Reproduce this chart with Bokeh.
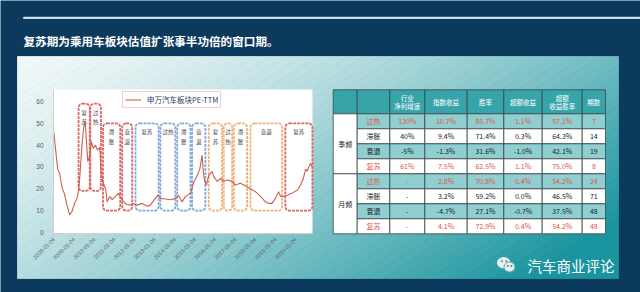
import math
import pandas as pd
from bokeh.plotting import figure
from bokeh.models import (Range1d, FixedTicker, DatetimeTickFormatter, LinearAxis, DatetimeAxis,
                          ColumnDataSource)
from bokeh.core.properties import value
from bokeh.embed import file_html
from bokeh.resources import INLINE

# ---------------- data ----------------
title_text = "复苏期为乘用车板块估值扩张事半功倍的窗口期。"
series_name = "申万汽车板块PE-TTM"
watermark_text = "汽车商业评论"

pe_dates = [
    "2008-01-04", "2008-02-01", "2008-03-14", "2008-04-18", "2008-06-06", "2008-07-11", "2008-08-29",
    "2008-10-17", "2008-11-28", "2009-01-09", "2009-02-27", "2009-03-27", "2009-04-17", "2009-05-29",
    "2009-06-26", "2009-07-24", "2009-08-14", "2009-09-11", "2009-10-16", "2009-11-13", "2009-12-18",
    "2010-01-29", "2010-03-05", "2010-04-16", "2010-05-07", "2010-06-11", "2010-07-30", "2010-08-27",
    "2010-10-15", "2010-11-26", "2011-01-21", "2011-03-25", "2011-05-06", "2011-06-24", "2011-08-19",
    "2011-10-21", "2011-12-16", "2012-02-17", "2012-05-25", "2012-08-24", "2012-10-19", "2013-01-18",
    "2013-03-01", "2013-04-19", "2013-07-19", "2013-10-18", "2014-01-17", "2014-03-14", "2014-05-16",
    "2014-07-18", "2014-10-17", "2014-12-12", "2015-02-13", "2015-04-03", "2015-05-15", "2015-06-05",
    "2015-06-26", "2015-07-31", "2015-09-11", "2015-11-13", "2015-12-11", "2016-02-12", "2016-04-15",
    "2016-06-10", "2016-08-12", "2016-11-11", "2017-01-06", "2017-04-07", "2017-07-07", "2017-10-06",
    "2018-01-05", "2018-04-06", "2018-07-06", "2018-09-07", "2018-11-02", "2019-01-04", "2019-03-01",
    "2019-04-05", "2019-06-07", "2019-08-02", "2019-11-01", "2020-02-07", "2020-04-03", "2020-05-22",
    "2020-07-03", "2020-08-01", "2020-08-28", "2020-10-02", "2020-10-30"]
pe_values = [
    46, 39, 29, 27, 20, 18, 12.5, 8, 9.6, 13, 15.6, 19, 25, 40, 47.6, 51, 43, 32.5, 35, 41.7, 38.5,
    40, 37.7, 39, 29, 23, 20, 14, 16.5, 15, 16.5, 18, 15.6, 14, 12.8, 12.5, 13.3, 12.5, 13.3, 12, 12.5, 15.6,
    17, 15.6, 15.3, 15, 15.6, 17, 14, 16.5, 18, 23, 26, 29, 35.4, 28, 24, 21.7, 26, 28, 25.6, 23.4, 24.7, 23.4, 24,
    23.4, 21.7, 22.5, 21.4, 20, 18.7, 16.5, 14, 13.3, 13.3, 15.6, 18.7, 16.5, 16.5, 17, 18, 19.4, 21.7, 24.7, 29, 28,
    30, 31.6, 30]

phase_names = ["复苏", "过热", "滞胀", "衰退", "复苏", "过热", "滞胀", "衰退",
               "复苏", "过热", "滞胀", "衰退", "复苏"]
phase_start = ["2009-03-27", "2009-10-27", "2010-06-13", "2011-05-27", "2012-01-23", "2013-04-19",
               "2014-02-18", "2014-11-14", "2015-09-12", "2016-06-10", "2016-12-10", "2017-10-08",
               "2019-07-01"]
phase_end = ["2009-10-16", "2010-05-07", "2011-04-22", "2011-11-25", "2013-03-18", "2014-01-15",
             "2014-10-16", "2015-07-13", "2016-05-11", "2016-11-10", "2017-08-07", "2019-05-05",
             "2020-11-03"]
phase_low = [19, 19, 10, 10, 10, 10, 10, 10, 10, 10, 10, 10, 10]
phase_high = [59, 59, 50, 50, 50, 50, 50, 50, 50, 50, 50, 50, 50]
phase_cycle = [0, 0, 0, 0, 1, 1, 1, 1, 2, 2, 2, 2, 3]
phase_vertical = [True, True, True, True, False, False, True, True, True, True, True, False, False]

x_tick_dates = ["2008-01-04", "2009-01-04", "2010-01-04", "2011-01-04", "2012-01-04", "2013-01-04",
                "2014-01-04", "2015-01-04", "2016-01-04", "2017-01-04", "2018-01-04", "2019-01-04",
                "2020-01-04"]
y_ticks = [0, 10, 20, 30, 40, 50, 60]
x_bounds = ["2007-12-29", "2020-11-05"]
y_bounds = [-0.5, 65.5]

table_header = ["", "", "行业\n净利增速", "指数收益", "胜率", "超额收益", "超额\n收益胜率", "期数"]
table_groups = ["季频", "月频"]
table_phases = ["过热", "滞胀", "衰退", "复苏", "过热", "滞胀", "衰退", "复苏"]
col_industry_profit = ["130%", "40%", "-5%", "61%", "-", "-", "-", "-"]
col_index_return = ["10.7%", "9.4%", "-1.3%", "7.5%", "2.8%", "3.2%", "-4.7%", "4.1%"]
col_win_rate = ["85.7%", "71.4%", "31.6%", "62.5%", "70.8%", "59.2%", "27.1%", "72.9%"]
col_excess_return = ["1.1%", "0.3%", "-1.0%", "1.1%", "0.4%", "0.0%", "-0.7%", "0.4%"]
col_excess_win = ["57.1%", "64.3%", "42.1%", "75.0%", "54.2%", "46.5%", "37.5%", "54.2%"]
col_periods = ["7", "14", "19", "8", "24", "71", "48", "48"]

# ---------------- styling / layout ----------------
W, H = 640, 292
FL, FR, FT, FB = 53, 312, 89, 233          # chart area in page pixels
NAVY = "#0c3a5d"
CJK = "Noto Sans CJK SC"
CYCLE_COLORS = ["#dc6767", "#85aadb", "#f0b27c", "#dc6767"]
LINE_COLOR = "#c8614d"


def to_ms(dates):
    return [float(pd.Timestamp(d).value // 10**6) for d in dates]


# whole page = plot frame, default ranges are page pixels (y downwards)
p = figure(width=W, height=H, x_axis_type=None, y_axis_type=None,
           x_range=Range1d(0, W), y_range=Range1d(H, 0),
           min_border_left=0, min_border_right=0, min_border_top=0, min_border_bottom=0,
           toolbar_location=None, output_backend="svg", title=None,
           background_fill_color=NAVY, border_fill_color=NAVY, outline_line_color=None)

# chart ranges, extended so that the data window lands on the chart area
d0, d1 = to_ms(x_bounds)
kx = (d1 - d0) / (FR - FL)
ky = (y_bounds[1] - y_bounds[0]) / (FB - FT)
p.extra_x_ranges = {"date": Range1d(d0 - FL * kx, d0 + (W - FL) * kx)}
p.extra_y_ranges = {"pe": Range1d(y_bounds[0] - (H - FB) * ky, y_bounds[0] + FB * ky)}

# ---------------- gradient panel ----------------
X0, X1, Y0, Y1 = 17, 618, 56, 278
C0 = (241, 248, 248)
C1 = (26, 148, 158)


def tval(x, y):
    return 0.7 * (x - X0) / (X1 - X0) + 0.4 * (y - Y0) / (Y1 - Y0)


def grad_color(t):
    t = max(0.0, min(1.0, t)) ** 1.4
    return "#%02x%02x%02x" % tuple(int(round(a + (b - a) * t)) for a, b in zip(C0, C1))


def clip(poly, f):
    out = []
    n = len(poly)
    for i in range(n):
        P, Q = poly[i], poly[(i + 1) % n]
        fp, fq = f(P), f(Q)
        if fp >= 0:
            out.append(P)
        if (fp >= 0) != (fq >= 0):
            s = fp / (fp - fq)
            out.append((P[0] + s * (Q[0] - P[0]), P[1] + s * (Q[1] - P[1])))
    return out


gxs, gys, gcs = [], [], []
NB, TMAX = 60, 1.1
for k in range(NB):
    t0, t1 = TMAX * k / NB, TMAX * (k + 1) / NB
    poly = [(X0, Y0), (X1, Y0), (X1, Y1), (X0, Y1)]
    poly = clip(poly, lambda P: tval(*P) - t0)
    if len(poly) >= 3:
        poly = clip(poly, lambda P: t1 - tval(*P))
    if len(poly) >= 3:
        gxs.append([q[0] for q in poly])
        gys.append([q[1] for q in poly])
        gcs.append(grad_color((t0 + t1) / 2))
p.patches(xs="xs", ys="ys", source=ColumnDataSource(dict(xs=gxs, ys=gys, c=gcs)),
          fill_color="c", line_color="c", line_width=0.8)

# title + separator
p.quad(left=[22.7], right=[W], top=[16.2], bottom=[18.6], fill_color="#c9dcec", line_color=None)
p.text(x=[23], y=[40.7], text=[title_text], text_color="white", text_font=value(CJK),
       text_font_size="11.6px", text_font_style="bold", text_baseline="middle", text_align="left")

# chart area background
p.quad(left=[FL], right=[FR], top=[FT], bottom=[FB], fill_color="white", line_color=None)

# ---------------- chart ----------------
ps = to_ms(phase_start)
pe_ = to_ms(phase_end)
phase_src = ColumnDataSource(dict(
    left=ps, right=pe_, bottom=phase_low, top=phase_high,
    mid=[(a + b) / 2 for a, b in zip(ps, pe_)],
    color=[CYCLE_COLORS[c] for c in phase_cycle],
    label=["\n".join(n) if v else n for n, v in zip(phase_names, phase_vertical)],
))
p.quad(left="left", right="right", bottom="bottom", top="top", source=phase_src,
       x_range_name="date", y_range_name="pe",
       fill_color=None, line_color="color", line_width=1.8, line_dash="3 1", border_radius=4)
p.text(x="mid", y="top", text="label", source=phase_src, x_range_name="date", y_range_name="pe",
       text_align="center", text_baseline="top",
       y_offset=5, text_font_size="5.5px", text_color="#3c3c3c", text_font=value(CJK),
       text_line_height=1.15)

line_src = ColumnDataSource(dict(x=to_ms(pe_dates), y=pe_values))
p.line(x="x", y="y", source=line_src, x_range_name="date", y_range_name="pe",
       line_color=LINE_COLOR, line_width=1.1, legend_label=series_name)

fmt = "%Y-%m-%d"
xaxis = DatetimeAxis(x_range_name="date", fixed_location=FB, bounds=(d0, d1),
                     ticker=FixedTicker(ticks=to_ms(x_tick_dates)),
                     formatter=DatetimeTickFormatter(microseconds=fmt, milliseconds=fmt, seconds=fmt,
                                                     minsec=fmt, minutes=fmt, hourmin=fmt, hours=fmt,
                                                     days=fmt, months=fmt, years=fmt))
yaxis = LinearAxis(y_range_name="pe", fixed_location=FL, bounds=tuple(y_bounds),
                   ticker=FixedTicker(ticks=y_ticks))
for ax in (xaxis, yaxis):
    ax.major_label_text_color = "#595959"
    ax.major_label_text_font = "Liberation Sans"
    ax.axis_line_color = "#d0d0d0"
    ax.minor_tick_line_color = None
xaxis.major_label_orientation = math.pi / 4
xaxis.major_label_text_font_size = "5.5px"
xaxis.major_tick_line_color = "#c0c0c0"
xaxis.major_tick_out = 2
xaxis.major_tick_in = 0
xaxis.major_label_standoff = 3
yaxis.major_label_text_font_size = "6.5px"
yaxis.major_tick_line_color = None
yaxis.major_label_standoff = 4
p.add_layout(xaxis, "below")
p.add_layout(yaxis, "left")

lg = p.legend[0]
lg.location = (122, H - 108)
lg.label_text_font_size = "7.5px"
lg.label_text_font = CJK
lg.label_text_color = "#1f3864"
lg.border_line_color = "#e3a0a0"
lg.border_line_width = 1
lg.background_fill_color = "white"
lg.background_fill_alpha = 1
lg.padding = 2
lg.spacing = 0
lg.margin = 0
lg.label_height = 9
lg.glyph_height = 9
lg.glyph_width = 16
lg.label_standoff = 6

# ---------------- table ----------------
HEADER_FILL = "#37a4aa"
SHADE_FILL = "#90cfd1"
BORDER = "#3a4548"
RED_TXT = "#e0533f"
BLK_TXT = "#1a1a1a"
cols = [332.7, 356.7, 389.3, 424.3, 466.7, 503.3, 541.7, 581.7, 605]
HT, HB, RH = 89.3, 113.3, 15.0

cl, cr, ct, cb, cf = [], [], [], [], []


def cell(l, r, t, b, fill):
    cl.append(l); cr.append(r); ct.append(t); cb.append(b); cf.append(fill)


for j in range(8):
    cell(cols[j], cols[j + 1], HT, HB, HEADER_FILL)
for g in range(2):
    cell(cols[0], cols[1], HB + 4 * RH * g, HB + 4 * RH * (g + 1), "white")
for i in range(8):
    fill = SHADE_FILL if table_phases[i] in ("过热", "衰退") else "white"
    for j in range(1, 8):
        cell(cols[j], cols[j + 1], HB + RH * i, HB + RH * (i + 1), fill)
p.quad(left="l", right="r", top="t", bottom="b", source=ColumnDataSource(dict(l=cl, r=cr, t=ct, b=cb, f=cf)),
       fill_color="f", line_color=BORDER, line_width=0.8)

hx, hy, ht = [], [], []
for j, h in enumerate(table_header):
    if not h:
        continue
    parts = h.split("\n")
    cx = (cols[j] + cols[j + 1]) / 2
    cy = (HT + HB) / 2
    for k, part in enumerate(parts):
        hx.append(cx)
        hy.append(cy + (k - (len(parts) - 1) / 2) * 8.0)
        ht.append(part)
p.text(x="x", y="y", text="text", source=ColumnDataSource(dict(x=hx, y=hy, text=ht)),
       text_align="center", text_baseline="middle",
       text_font=value(CJK), text_font_size="6.5px", text_color="white")

bx, by, bt, bc = [], [], [], []
for g in range(2):
    bx.append((cols[0] + cols[1]) / 2); by.append(HB + (4 * g + 2) * RH)
    bt.append(table_groups[g]); bc.append(BLK_TXT)
value_cols = [col_industry_profit, col_index_return, col_win_rate, col_excess_return, col_excess_win, col_periods]
for i in range(8):
    cy = HB + RH * (i + 0.5)
    color = RED_TXT if table_phases[i] in ("过热", "复苏") else BLK_TXT
    bx.append((cols[1] + cols[2]) / 2); by.append(cy); bt.append(table_phases[i]); bc.append(color)
    for j, vc in enumerate(value_cols):
        bx.append((cols[j + 2] + cols[j + 3]) / 2); by.append(cy); bt.append(vc[i]); bc.append(color)
p.text(x="x", y="y", text="text", source=ColumnDataSource(dict(x=bx, y=by, text=bt, color=bc)),
       text_align="center", text_baseline="middle",
       text_font=value(CJK), text_font_size="7px", text_color="color")

# ---------------- watermark ----------------
p.ellipse(x=[503.2], y=[262.3], width=[13.5], height=[11.5], fill_color="#e8eeee", line_color=None)
p.ellipse(x=[509], y=[266.5], width=[11], height=[10], fill_color="#e8eeee", line_color="#55aeb2",
          line_width=1)
p.scatter(x=[501.4, 505.8, 507.3, 510.9], y=[260.8, 260.8, 265.6, 265.6], size=2, marker="circle",
          fill_color="#6f8080", line_color=None)
p.text(x=[527], y=[265], text=[watermark_text], text_color="white", text_font=value(CJK),
       text_font_size="14.5px", text_baseline="middle", text_align="left")

open("out.html", "w").write(file_html(p, INLINE))
